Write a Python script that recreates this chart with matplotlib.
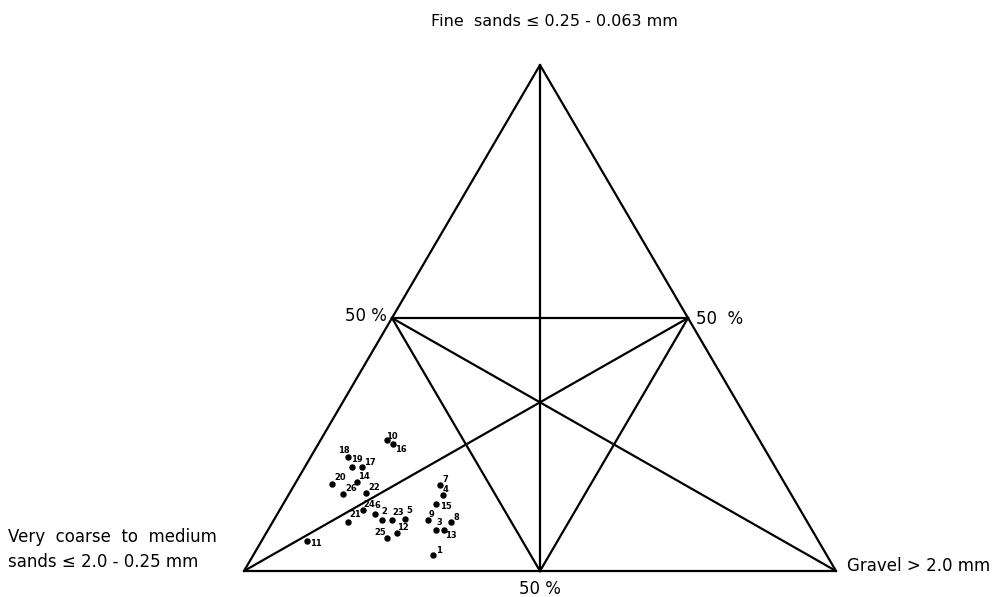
import numpy as np
import matplotlib
matplotlib.use("Agg")
import matplotlib.pyplot as plt

# sample numbers and grain size fractions in percent
samples = list(range(1, 27))
fine = [3.2, 10.1, 8.2, 15.0, 10.3, 11.2, 17.0, 9.7, 10.1, 25.8,
        6.0, 7.5, 8.2, 17.5, 13.2, 25.1, 20.6, 22.5, 20.6, 17.2,
        9.7, 15.4, 10.1, 12.1, 6.6, 15.2]
gravel = [30.4, 18.2, 28.4, 26.1, 22.1, 16.5, 24.6, 30.1, 26.0, 11.2,
          7.7, 22.1, 29.7, 10.3, 25.9, 12.6, 9.7, 6.4, 8.0, 6.3,
          12.7, 12.9, 20.0, 14.0, 20.9, 9.1]
coarse = [66.4, 71.7, 63.4, 58.9, 67.6, 72.3, 58.4, 60.2, 63.9, 63.0,
          86.3, 70.4, 62.1, 72.2, 60.9, 62.3, 69.7, 71.1, 71.4, 76.5,
          77.6, 71.7, 69.9, 73.9, 72.5, 75.7]

# label offsets (points) for the sample numbers
label_offsets = {
    10: (4, 3), 16: (6, -4), 18: (-3, 5), 19: (3, 5), 17: (5, 3),
    20: (6, 5), 14: (5, 4), 26: (6, 4), 22: (6, 4), 24: (5, 4),
    6: (2, 6), 2: (2, 6), 21: (5, 5), 23: (4, 5), 5: (3, 6),
    25: (-5, 4), 12: (4, 4), 11: (6, -2), 7: (4, 4), 4: (2, 4),
    15: (7, -2), 9: (3, 4), 3: (2, 5), 13: (5, -4), 8: (4, 3), 1: (4, 3),
}

H = np.sqrt(3) / 2


def to_xy(f, g, c):
    tot = np.asarray(f) + np.asarray(g) + np.asarray(c)
    f = np.asarray(f) / tot
    g = np.asarray(g) / tot
    return g + f / 2, f * H


fig = plt.figure(figsize=(10.02, 5.97), dpi=100)
ax = fig.add_axes([244 / 1002, 26 / 597, 592 / 1002, 506 / 597])
ax.set_xlim(0, 1)
ax.set_ylim(0, H)
ax.axis("off")

lw = 1.6
L = to_xy(0, 0, 1)
R = to_xy(0, 1, 0)
T = to_xy(1, 0, 0)
mLT = to_xy(50, 0, 50)
mRT = to_xy(50, 50, 0)
mLR = to_xy(0, 50, 50)

# outer triangle
for a, b in [(L, R), (R, T), (T, L)]:
    ax.plot([a[0], b[0]], [a[1], b[1]], color="black", lw=lw, clip_on=False,
            solid_capstyle="round")
# inner triangle through the 50 % points
for a, b in [(mLT, mRT), (mRT, mLR), (mLR, mLT)]:
    ax.plot([a[0], b[0]], [a[1], b[1]], color="black", lw=lw, clip_on=False)
# medians
for a, b in [(T, mLR), (L, mRT), (R, mLT)]:
    ax.plot([a[0], b[0]], [a[1], b[1]], color="black", lw=lw, clip_on=False)

x, y = to_xy(fine, gravel, coarse)
ax.scatter(x, y, s=13, color="black", zorder=3, clip_on=False)
for s, xi, yi in zip(samples, x, y):
    dx, dy = label_offsets.get(s, (4, 4))
    ax.annotate(str(s), (xi, yi), xytext=(dx, dy), textcoords="offset points",
                fontsize=6, fontweight="bold", ha="center", va="center",
                annotation_clip=False)

fs = 12
ax.text(T[0] + 0.025, T[1] + 0.075, "Fine  sands \u2264 0.25 - 0.063 mm",
        fontsize=11.5, ha="center", va="center", clip_on=False)
ax.text(-0.399, 0.058, "Very  coarse  to  medium",
        fontsize=fs, ha="left", va="center", clip_on=False)
ax.text(-0.399, 0.016, "sands \u2264 2.0 - 0.25 mm",
        fontsize=fs, ha="left", va="center", clip_on=False)
ax.text(1.018, 0.009, "Gravel > 2.0 mm", fontsize=fs,
        ha="left", va="center", clip_on=False)
ax.text(mLR[0], -0.030, "50 %", fontsize=fs, ha="center", va="center",
        clip_on=False)
ax.text(mLT[0] - 0.008, mLT[1] + 0.003, "50 %", fontsize=fs,
        ha="right", va="center", clip_on=False)
ax.text(mRT[0] + 0.014, mRT[1] - 0.002, "50  %", fontsize=fs,
        ha="left", va="center", clip_on=False)

fig.savefig("out.png", dpi=100, facecolor="white")
